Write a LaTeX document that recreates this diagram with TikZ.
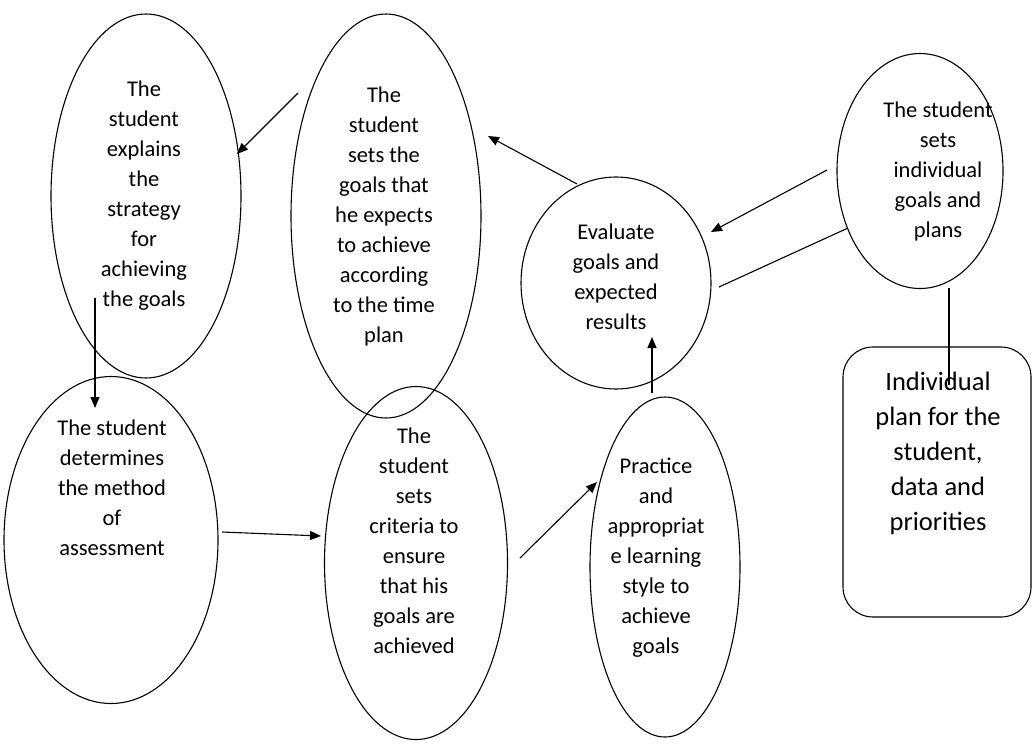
\documentclass[tikz,border=0pt]{standalone}
\usepackage{fontspec}
\setmainfont{Carlito}
\usetikzlibrary{shapes.geometric}
\usetikzlibrary{arrows.meta}

\begin{document}
\begin{tikzpicture}
		[x=1pt, y=-1pt,
		oval/.style={ellipse, draw=black, line width=1.1pt, inner sep=0pt},
		planbox/.style={rectangle, draw=black, rounded corners=30pt, line width=1.1pt, inner sep=0pt},
		txt/.style={align=center, inner sep=0pt, font=\fontsize{22.5}{30}\selectfont},
		bigtxt/.style={align=center, inner sep=0pt, font=\fontsize{26.5}{35}\selectfont},
		link/.style={line width=1.1pt},
		arr/.style={link, -{Triangle[length=11pt, width=9pt]}}]
		\useasboundingbox (0,0) rectangle (1032,747);

		\node[oval, minimum width=190pt, minimum height=364pt] (explain) at (146,196) {};
		\node[oval, minimum width=190pt, minimum height=404pt] (goals) at (386,216) {};
		\node[oval, minimum width=190pt, minimum height=212pt] (evaluate) at (616,283) {};
		\node[oval, minimum width=166pt, minimum height=235pt] (sets) at (920,171) {};
		\node[planbox, minimum width=188pt, minimum height=270pt] (plan) at (937,482) {};
		\node[oval, minimum width=214pt, minimum height=327pt] (method) at (111,540) {};
		\node[oval, minimum width=183pt, minimum height=353pt] (criteria) at (416,563) {};
		\node[oval, minimum width=150pt, minimum height=340pt] (practice) at (665,567) {};

		\node[txt] (explaintxt) at (144,196) {The\\student\\explains\\the\\strategy\\for\\achieving\\the goals};
		\node[txt] (goalstxt) at (384,216) {The\\student\\sets the\\goals that\\he expects\\to achieve\\according\\to the time\\plan};
		\node[txt] (evaluatetxt) at (616,277) {Evaluate\\goals and\\expected\\results};
		\node[txt] (setstxt) at (938,171) {The student\\sets\\individual\\goals and\\plans};
		\node[bigtxt] (plantxt) at (938,453) {Individual\\plan for the\\student,\\data and\\priorities};
		\node[txt] (methodtxt) at (112,488) {The student\\determines\\the method\\of\\assessment};
		\node[txt] (criteriatxt) at (414,541) {The\\student\\sets\\criteria to\\ensure\\that his\\goals are\\achieved};
		\node[txt] (practicetxt) at (656,558) {Practice\\and\\appropriat\\e learning\\style to\\achieve\\goals};

		\coordinate (c1) at (298,93);
		\coordinate (c2) at (237,154);
		\coordinate (c3) at (577,184);
		\coordinate (c4) at (488,136);
		\coordinate (c5) at (827,170);
		\coordinate (c6) at (711,232);
		\coordinate (c7) at (719,287);
		\coordinate (c8) at (848,228);
		\coordinate (c9) at (949,288);
		\coordinate (c10) at (949,385);
		\coordinate (c11) at (95,298);
		\coordinate (c12) at (95,408);
		\coordinate (c13) at (222,532);
		\coordinate (c14) at (321,536);
		\coordinate (c15) at (520,558);
		\coordinate (c16) at (597,482);
		\coordinate (c17) at (652,393);
		\coordinate (c18) at (652,337);

		\draw[arr] (c1) -- (c2);
		\draw[arr] (c3) -- (c4);
		\draw[arr] (c5) -- (c6);
		\draw[link] (c7) -- (c8);
		\draw[link] (c9) -- (c10);
		\draw[arr] (c11) -- (c12);
		\draw[arr] (c13) -- (c14);
		\draw[arr] (c15) -- (c16);
		\draw[arr] (c17) -- (c18);
	\end{tikzpicture}
\end{document}
